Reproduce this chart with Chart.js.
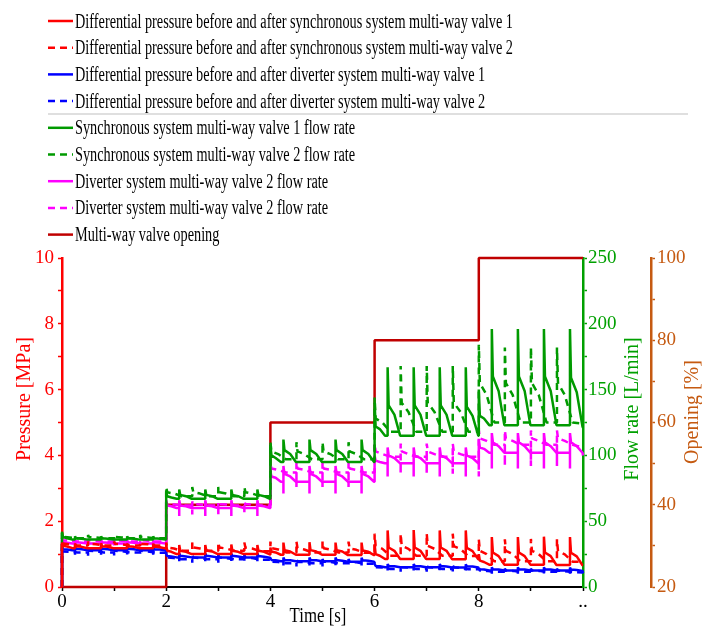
<!DOCTYPE html>
<html>
<head>
<meta charset="utf-8">
<script src="https://cdn.jsdelivr.net/npm/chart.js@4.4.1/dist/chart.umd.min.js"></script>
<style>
  html, body { margin: 0; padding: 0; background: #fff; }
</style>
</head>
<body>
<canvas id="c" width="702" height="628"></canvas>
<script>
// time grid of the solid traces: step at s, then spikes at s+0.25, s+0.75, s+1.25, s+1.75
// each group = base before, trough, peak, back down, knee, settled base
const TS = [
  0,0,0,0.02,0.1,0.2, 0.25,0.25,0.25,0.27,0.38,0.49, 0.75,0.75,0.75,0.77,0.88,0.99, 1.25,1.25,1.25,1.27,1.38,1.49, 1.75,1.75,1.75,1.77,1.88,1.99,
  2,2,2,2.02,2.1,2.2, 2.25,2.25,2.25,2.27,2.38,2.49, 2.75,2.75,2.75,2.77,2.88,2.99, 3.25,3.25,3.25,3.27,3.38,3.49, 3.75,3.75,3.75,3.77,3.88,3.99,
  4,4,4,4.02,4.1,4.2, 4.25,4.25,4.25,4.27,4.38,4.49, 4.75,4.75,4.75,4.77,4.88,4.99, 5.25,5.25,5.25,5.27,5.38,5.49, 5.75,5.75,5.75,5.77,5.88,5.99,
  6,6,6,6.02,6.1,6.2, 6.25,6.25,6.25,6.27,6.38,6.49, 6.75,6.75,6.75,6.77,6.88,6.99, 7.25,7.25,7.25,7.27,7.38,7.49, 7.75,7.75,7.75,7.77,7.88,7.99,
  8,8,8,8.02,8.1,8.2, 8.25,8.25,8.25,8.27,8.38,8.49, 8.75,8.75,8.75,8.77,8.88,8.99, 9.25,9.25,9.25,9.27,9.38,9.49, 9.75,9.75,9.75,9.77,9.88,9.99,
  10
]
// time grid of the dashed traces: spikes at s, s+0.5, s+1, s+1.5
const TD = [
  0,0,0,0.02,0.15,0.3, 0.5,0.5,0.5,0.52,0.65,0.8, 1,1,1,1.02,1.15,1.3, 1.5,1.5,1.5,1.52,1.65,1.8,
  2,2,2,2.02,2.15,2.3, 2.5,2.5,2.5,2.52,2.65,2.8, 3,3,3,3.02,3.15,3.3, 3.5,3.5,3.5,3.52,3.65,3.8,
  4,4,4,4.02,4.15,4.3, 4.5,4.5,4.5,4.52,4.65,4.8, 5,5,5,5.02,5.15,5.3, 5.5,5.5,5.5,5.52,5.65,5.8,
  6,6,6,6.02,6.15,6.3, 6.5,6.5,6.5,6.52,6.65,6.8, 7,7,7,7.02,7.15,7.3, 7.5,7.5,7.5,7.52,7.65,7.8,
  8,8,8,8.02,8.15,8.3, 8.5,8.5,8.5,8.52,8.65,8.8, 9,9,9,9.02,9.15,9.3, 9.5,9.5,9.5,9.52,9.65,9.8,
  10
]

// pressure [MPa]
const redSolid = [
  0,0,1.35,1.25,1.23,1.18, 1.18,1.18,1.32,1.24,1.22,1.18, 1.18,1.18,1.33,1.24,1.22,1.18, 1.18,1.18,1.32,1.24,1.22,1.18, 1.18,1.18,1.32,1.23,1.21,1.17,
  1.17,1.17,1.25,1.1,1.07,1.0, 1.0,1.0,1.28,1.1,1.07,1.0, 1.0,1.0,1.28,1.11,1.08,1.0, 1.0,1.0,1.29,1.1,1.07,1.0, 1.0,1.0,1.28,1.1,1.07,0.99,
  0.99,0.99,1.2,1.08,1.05,0.98, 0.98,0.98,1.35,1.12,1.08,0.98, 0.98,0.98,1.36,1.12,1.08,0.98, 0.98,0.98,1.35,1.12,1.08,0.97, 0.97,0.97,1.35,1.11,1.07,0.97,
  0.97,0.97,1.3,1.0,0.95,0.85, 0.85,0.85,1.72,1.2,1.1,0.85, 0.85,0.85,1.73,1.2,1.1,0.85, 0.85,0.85,1.72,1.2,1.1,0.84, 0.84,0.84,1.72,1.19,1.09,0.84,
  0.84,0.84,1.0,0.8,0.76,0.68, 0.68,0.68,1.52,1.05,0.94,0.68, 0.68,0.68,1.52,1.05,0.94,0.68, 0.68,0.68,1.53,1.05,0.94,0.67, 0.67,0.67,1.52,1.04,0.93,0.66,
  0.66
]
const redDash = [
  0,0,1.4,1.32,1.3,1.26, 1.26,1.26,1.38,1.31,1.3,1.26, 1.26,1.26,1.38,1.31,1.3,1.26, 1.26,1.26,1.38,1.31,1.3,1.26,
  1.26,1.26,1.35,1.2,1.17,1.1, 1.1,1.1,1.35,1.2,1.17,1.1, 1.1,1.1,1.36,1.2,1.17,1.1, 1.1,1.1,1.35,1.2,1.17,1.09,
  1.09,1.09,1.38,1.18,1.14,1.05, 1.05,1.05,1.38,1.18,1.14,1.05, 1.05,1.05,1.38,1.18,1.14,1.05, 1.05,1.05,1.38,1.17,1.13,1.04,
  1.04,1.04,1.62,1.25,1.16,0.95, 0.95,0.95,1.62,1.25,1.16,0.95, 0.95,0.95,1.63,1.25,1.16,0.95, 0.95,0.95,1.62,1.24,1.15,0.94,
  0.94,0.94,1.45,1.1,1.0,0.78, 0.78,0.78,1.45,1.1,1.0,0.78, 0.78,0.78,1.46,1.1,1.0,0.78, 0.78,0.78,1.45,1.09,0.99,0.77,
  0.76
]
const blueSolid = [
  0,0,1.2,1.15,1.14,1.12, 1.12,0.98,1.22,1.16,1.15,1.12, 1.12,0.98,1.22,1.16,1.15,1.12, 1.12,0.99,1.22,1.16,1.15,1.12, 1.12,0.98,1.21,1.15,1.14,1.11,
  1.11,1.11,1.0,0.94,0.93,0.9, 0.9,0.78,1.02,0.95,0.93,0.9, 0.9,0.78,1.02,0.95,0.93,0.9, 0.9,0.79,1.01,0.95,0.93,0.9, 0.9,0.78,1.02,0.94,0.92,0.89,
  0.89,0.89,0.88,0.82,0.81,0.78, 0.78,0.65,0.9,0.82,0.81,0.78, 0.78,0.65,0.9,0.82,0.81,0.78, 0.78,0.66,0.9,0.82,0.8,0.77, 0.77,0.65,0.89,0.81,0.8,0.77,
  0.77,0.77,0.7,0.64,0.63,0.6, 0.6,0.5,0.7,0.64,0.63,0.6, 0.6,0.5,0.7,0.64,0.63,0.6, 0.6,0.51,0.7,0.64,0.62,0.59, 0.59,0.5,0.69,0.63,0.62,0.59,
  0.59,0.59,0.58,0.54,0.53,0.5, 0.5,0.4,0.6,0.54,0.53,0.5, 0.5,0.4,0.6,0.54,0.53,0.5, 0.5,0.41,0.6,0.54,0.53,0.5, 0.5,0.4,0.59,0.53,0.52,0.49,
  0.42
]
const blueDash = [
  0,0,1.1,1.08,1.07,1.05, 1.05,0.95,1.16,1.1,1.09,1.05, 1.05,0.95,1.16,1.1,1.09,1.05, 1.05,0.96,1.16,1.1,1.08,1.04,
  1.04,1.04,0.97,0.9,0.88,0.84, 0.84,0.74,0.97,0.9,0.88,0.84, 0.84,0.74,0.97,0.9,0.88,0.84, 0.84,0.75,0.97,0.9,0.88,0.83,
  0.83,0.83,0.85,0.77,0.76,0.72, 0.72,0.62,0.85,0.77,0.76,0.72, 0.72,0.62,0.85,0.77,0.76,0.72, 0.72,0.63,0.85,0.77,0.75,0.71,
  0.71,0.71,0.66,0.6,0.59,0.55, 0.55,0.46,0.66,0.6,0.59,0.55, 0.55,0.46,0.66,0.6,0.59,0.55, 0.55,0.47,0.66,0.6,0.58,0.54,
  0.54,0.54,0.56,0.5,0.49,0.46, 0.46,0.38,0.56,0.5,0.49,0.46, 0.46,0.38,0.56,0.5,0.49,0.46, 0.46,0.39,0.56,0.5,0.48,0.45,
  0.44
]

// flow rate [L/min]
const greenSolid = [
  0,0,42,38,37,36, 36,36,38.5,37,36.7,36, 36,36,38.5,37,36.7,36, 36,36,38.5,37,36.7,36, 36,36,38.5,37,36.7,36,
  36,36,72,69,68,67, 67,67,74,70,69,67, 67,67,74,70,69,67, 67,67,74,70,69,67, 67,67,74,70,69,67,
  67,67,108,100,98,95, 95,95,112,104,101,95, 95,95,112,104,101,95, 95,95,112,104,101,95, 95,95,112,104,101,95,
  95,95,140,122,120,115, 115,115,167,138,131,115, 115,115,167,138,131,115, 115,115,167,138,131,115, 115,115,167,137,130,115,
  115,115,150,130,128,123, 123,123,196,160,149,123, 123,123,196,160,149,123, 123,123,196,160,149,123, 123,123,196,159,148,122,
  121
]
const greenDash = [
  0,0,41,38,37.7,37, 37,37,39.5,38,37.7,37, 37,37,39.5,38,37.7,37, 37,37,39.5,38,37.7,37,
  37,37,76,72,71,69, 69,69,76,72,71,69, 69,69,76,72,71,69, 69,69,76,72,71,69,
  69,69,110,103,101,97, 97,97,110,103,101,97, 97,97,110,103,101,97, 97,97,110,103,101,97,
  97,97,144,128,125,118, 118,118,168,140,133,118, 118,118,168,140,133,118, 118,118,168,140,133,118,
  118,118,184,155,146,125, 125,125,182,155,146,125, 125,125,182,155,146,125, 125,125,182,155,146,125,
  124
]
const magSolid = [
  0,0,36,34,33.7,33, 33,30,35.5,34,33.7,33, 33,30,35.5,34,33.7,33, 33,30,35.5,34,33.7,33, 33,30,35.5,34,33.7,33,
  33,33,66,62,61.4,60, 60,54,66,62,61.4,60, 60,54,66,62,61.4,60, 60,54,66,62,61.4,60, 60,54,66,62,61.4,60,
  60,60,88,84,83,80, 80,71,92,86,84,80, 80,71,92,86,84,80, 80,71,92,86,84,80, 80,71,92,86,84,80,
  80,80,100,96,95,94, 94,84,106,100,98,94, 94,84,106,100,98,94, 94,84,106,100,98,94, 94,84,106,100,98,94,
  94,94,112,106,105,102, 102,90,117,110,107,102, 102,90,117,110,107,102, 102,90,117,110,107,102, 102,90,117,110,107,102,
  100
]
const magDash = [
  0,0,37,35.5,35.2,34.5, 34.5,31,36.5,35.5,35.2,34.5, 34.5,31,36.5,35.5,35.2,34.5, 34.5,31,36.5,35.5,35.2,34.5,
  34.5,34.5,65,63,62.7,62, 62,55,65,63,62.7,62, 62,55,65,63,62.7,62, 62,55,65,63,62.7,62,
  62,62,94,90,89,87, 87,76,95,90,89,87, 87,76,95,90,89,87, 87,76,95,90,89,87,
  87,87,109,103,101,99, 99,86,109,103,101,99, 99,86,109,103,101,99, 99,86,109,103,101,99,
  99,84,119,113,111,108, 108,92,119,113,111,108, 108,92,119,113,111,108, 108,92,119,113,111,108,
  106
]

// valve opening [%]
const openT = [0, 2, 2, 4, 4, 6, 6, 8, 8, 10]
const openV = [20, 20, 40, 40, 60, 60, 80, 80, 100, 100]

const labels = [
  'Differential pressure before and after synchronous system multi-way valve 1',
  'Differential pressure before and after synchronous system multi-way valve 2',
  'Differential pressure before and after diverter system multi-way valve 1',
  'Differential pressure before and after diverter system multi-way valve 2',
  'Synchronous system multi-way valve 1 flow rate',
  'Synchronous system multi-way valve 2 flow rate',
  'Diverter system multi-way valve 2 flow rate',
  'Diverter system multi-way valve 2 flow rate',
  'Multi-way valve opening',
]

const RED = '#ff0000', BLUE = '#0000ff', GREEN = '#009a00', MAG = '#ff00ff', OPEN = '#c00000'
const AX_GREEN = '#00a000', BROWN = '#c55a11'
const FONT = "'Liberation Serif', 'Times New Roman', serif"
const DASH = [7, 5]

const pts = (xs, ys) => xs.map((x, i) => ({ x, y: ys[i] }))
const line = (label, data, color, axis, dash) => ({
  label, data, yAxisID: axis,
  borderColor: color, backgroundColor: color,
  borderWidth: 2.5, borderDash: dash || [], borderJoinStyle: 'bevel',
  pointRadius: 0, tension: 0, fill: false, clip: 4,
})

// legend: one row per dataset, above the plot
const legendRows = {
  id: 'legendRows',
  afterDraw(chart) {
    const ctx = chart.ctx
    const dss = chart.data.datasets
    ctx.save()
    ctx.font = '20px ' + FONT
    const sx = 438 / ctx.measureText(dss[0].label).width
    dss.forEach((ds, i) => {
      const y = 21 + i * 26.7
      ctx.strokeStyle = ds.borderColor
      ctx.lineWidth = 2.5
      ctx.setLineDash(ds.borderDash)
      ctx.beginPath(); ctx.moveTo(48, y); ctx.lineTo(73, y); ctx.stroke()
      ctx.save()
      ctx.translate(75, y + 6.5)
      ctx.scale(sx, 1)
      ctx.fillStyle = '#000'
      ctx.fillText(ds.label, 0, 0)
      ctx.restore()
    })
    ctx.setLineDash([])
    ctx.strokeStyle = '#d4d4d4'
    ctx.lineWidth = 1.5
    ctx.beginPath(); ctx.moveTo(48, 114); ctx.lineTo(688, 114); ctx.stroke()
    ctx.restore()
  }
}

// axis titles (the right-hand ones read bottom to top, like the left one)
const axisTitles = {
  id: 'axisTitles',
  afterDraw(chart) {
    const ctx = chart.ctx
    const put = (text, x, y, color, rot, sx) => {
      ctx.save()
      ctx.translate(x, y)
      if (rot) ctx.rotate(-Math.PI / 2)
      if (sx) ctx.scale(sx, 1)
      ctx.font = '20px ' + FONT
      ctx.fillStyle = color
      ctx.textAlign = 'center'
      ctx.textBaseline = 'middle'
      ctx.fillText(text, 0, 0)
      ctx.restore()
    }
    put('Pressure [MPa]', 25, 399, RED, true)
    put('Flow rate [L/min]', 633, 409, AX_GREEN, true)
    put('Opening [%]', 693, 412, BROWN, true)
    put('Time [s]', 318, 617, '#000', false, 0.84)
  }
}

const tickFont = { family: FONT, size: 19 }

new Chart(document.getElementById('c'), {
  type: 'line',
  data: {
    datasets: [
      line(labels[0], pts(TS, redSolid), RED, 'y'),
      line(labels[1], pts(TD, redDash), RED, 'y', DASH),
      line(labels[2], pts(TS, blueSolid), BLUE, 'y'),
      line(labels[3], pts(TD, blueDash), BLUE, 'y', DASH),
      line(labels[4], pts(TS, greenSolid), GREEN, 'y1'),
      line(labels[5], pts(TD, greenDash), GREEN, 'y1', DASH),
      line(labels[6], pts(TS, magSolid), MAG, 'y1'),
      line(labels[7], pts(TD, magDash), MAG, 'y1', DASH),
      line(labels[8], pts(openT, openV), OPEN, 'y2'),
    ]
  },
  options: {
    responsive: false,
    animation: false,
    layout: { padding: { top: 258, left: 0, right: 0, bottom: 0 } },
    plugins: { legend: { display: false }, tooltip: { enabled: false }, title: { display: false } },
    scales: {
      x: {
        type: 'linear', min: 0, max: 10,
        afterFit: s => { s.height = 41 },
        border: { color: '#000', width: 2 },
        grid: { drawOnChartArea: false, tickLength: 4, tickColor: '#000', tickWidth: 1.5 },
        ticks: {
          stepSize: 1, autoSkip: false, maxRotation: 0, padding: 0, color: '#000', font: tickFont,
          callback: v => v === 10 ? '..' : (v % 2 === 0 ? String(v) : ''),
        },
      },
      y: {
        position: 'left', min: 0, max: 10,
        afterFit: s => { s.width = 62 },
        border: { color: RED, width: 2.5 },
        grid: { drawOnChartArea: false, tickLength: 4, tickColor: RED, tickWidth: 1.5 },
        ticks: {
          stepSize: 1, autoSkip: false, padding: 4, color: RED, font: tickFont,
          callback: v => v % 2 === 0 ? String(v) : '',
        },
      },
      y1: {
        position: 'right', min: 0, max: 250,
        afterFit: s => { s.width = 68 },
        border: { color: AX_GREEN, width: 2.5 },
        grid: { drawOnChartArea: false, tickLength: 4, tickColor: AX_GREEN, tickWidth: 1.5 },
        ticks: {
          stepSize: 25, autoSkip: false, padding: 1, color: AX_GREEN, font: tickFont,
          callback: v => v % 50 === 0 ? String(v) : '',
        },
      },
      y2: {
        position: 'right', min: 20, max: 100,
        afterFit: s => { s.width = 51 },
        border: { color: BROWN, width: 2.5 },
        grid: { drawOnChartArea: false, tickLength: 4, tickColor: BROWN, tickWidth: 1.5 },
        ticks: {
          stepSize: 10, autoSkip: false, padding: 2, color: BROWN, font: tickFont,
          callback: v => v % 20 === 0 ? String(v) : '',
        },
      },
    },
  },
  plugins: [legendRows, axisTitles],
})
</script>
</body>
</html>
